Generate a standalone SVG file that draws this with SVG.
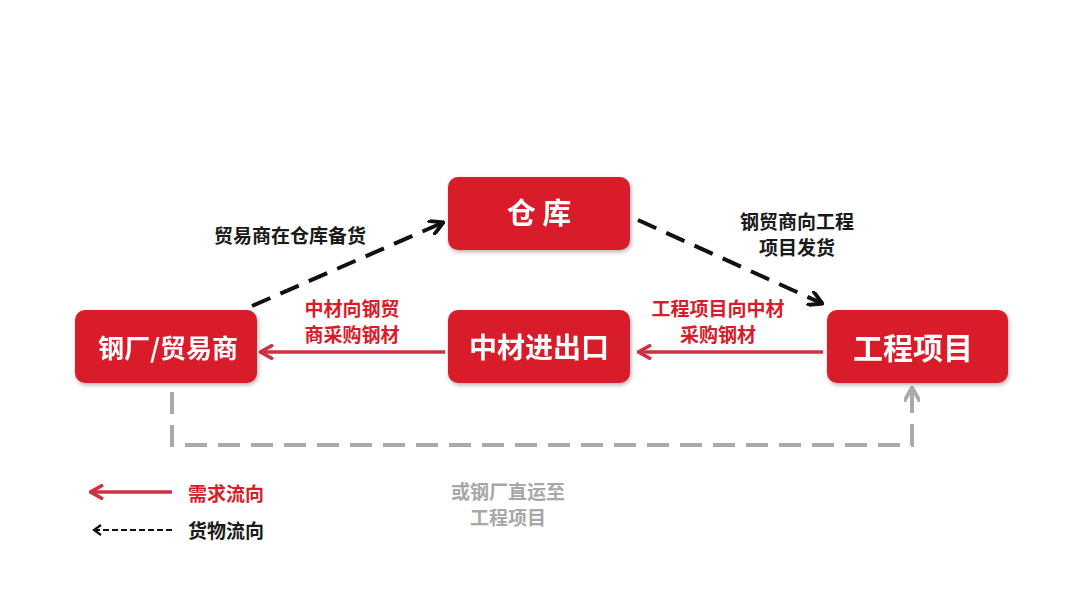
<svg xmlns="http://www.w3.org/2000/svg" width="1080" height="608" viewBox="0 0 1080 608">
<defs>
<style>
.box{fill:#d81c2a;}
.bt{fill:#fff;font-family:"Noto Sans CJK SC","Noto Sans",sans-serif;font-weight:bold;text-anchor:middle;}
.lb{font-family:"Noto Sans CJK SC","Noto Sans",sans-serif;font-weight:bold;font-size:19px;text-anchor:middle;}
.red{fill:#d81c2a;}
.blk{fill:#1a1a1a;}
.gry{fill:#a8a8a8;}
.ra{stroke:#d03040;stroke-width:3.5;fill:none;}
.da{stroke:#111;stroke-width:4;fill:none;stroke-dasharray:20 11;}
.ga{stroke:#aaaaaa;stroke-width:4;fill:none;stroke-dasharray:22 11;}
</style>
<filter id="sh" x="-10%" y="-10%" width="130%" height="140%">
<feDropShadow dx="1" dy="2" stdDeviation="2" flood-color="#000" flood-opacity="0.3"/>
</filter>
<marker id="mr" viewBox="0 0 10 10" refX="8" refY="5" markerWidth="4.5" markerHeight="4.5" orient="auto" markerUnits="strokeWidth">
<path d="M1,0.5 L9,5 L1,9.5" fill="none" stroke="#d03040" stroke-width="2.2"/>
</marker>
<marker id="mb" viewBox="0 0 10 10" refX="8" refY="5" markerWidth="4" markerHeight="4" orient="auto" markerUnits="strokeWidth">
<path d="M0,0 L9,5 L0,10" fill="none" stroke="#111" stroke-width="2.4"/>
</marker>
<marker id="mg" viewBox="0 0 10 10" refX="8" refY="5" markerWidth="4" markerHeight="4" orient="auto" markerUnits="strokeWidth">
<path d="M0,0 L9,5 L0,10" fill="none" stroke="#aaaaaa" stroke-width="2.4"/>
</marker>
</defs>
<rect width="1080" height="608" fill="#fff"/>
<g id="connectors">
<line class="ra" x1="445" y1="352" x2="262" y2="352" marker-end="url(#mr)"/>
<line class="ra" x1="823" y1="352" x2="640" y2="352" marker-end="url(#mr)"/>
<line class="da" x1="252" y1="306" x2="442" y2="223" marker-end="url(#mb)"/>
<line class="da" x1="638" y1="220" x2="821" y2="303" marker-end="url(#mb)"/>
<polyline class="ga" points="172,392 172,445 912,445 912,389" marker-end="url(#mg)"/>
</g>
<g id="node-warehouse" filter="url(#sh)">
<rect class="box" x="448" y="177" width="182" height="73" rx="10"/>
<text class="bt" x="539" y="224" font-size="29">仓 库</text>
</g>
<g id="node-steel" filter="url(#sh)">
<rect class="box" x="75" y="310" width="182" height="73" rx="10"/>
<text class="bt" x="168" y="358" font-size="26">钢厂/贸易商</text>
</g>
<g id="node-zhongcai" filter="url(#sh)">
<rect class="box" x="448" y="310" width="182" height="73" rx="10"/>
<text class="bt" x="539" y="358" font-size="28">中材进出口</text>
</g>
<g id="node-project" filter="url(#sh)">
<rect class="box" x="827" y="310" width="181" height="73" rx="10"/>
<text class="bt" x="913" y="359" font-size="30">工程项目</text>
</g>
<g id="labels">
<text class="lb blk" x="290" y="243" font-size="20">贸易商在仓库备货</text>
<text class="lb red" x="352" y="316">中材向钢贸</text>
<text class="lb red" x="352" y="342">商采购钢材</text>
<text class="lb blk" x="797" y="229">钢贸商向工程</text>
<text class="lb blk" x="797" y="255">项目发货</text>
<text class="lb red" x="718" y="316">工程项目向中材</text>
<text class="lb red" x="718" y="342">采购钢材</text>
<text class="lb gry" x="508" y="499">或钢厂直运至</text>
<text class="lb gry" x="508" y="525">工程项目</text>
</g>
<g id="legend">
<line class="ra" x1="172" y1="492" x2="92" y2="492" marker-end="url(#mr)"/>
<text class="lb red" x="188" y="501" style="text-anchor:start">需求流向</text>
<line x1="172" y1="530" x2="96" y2="530" stroke="#111" stroke-width="2" stroke-dasharray="6 3"/>
<path d="M101,525 L94,530 L101,535" fill="none" stroke="#111" stroke-width="2.2"/>
<text class="lb blk" x="188" y="538" style="text-anchor:start">货物流向</text>
</g>
</svg>
